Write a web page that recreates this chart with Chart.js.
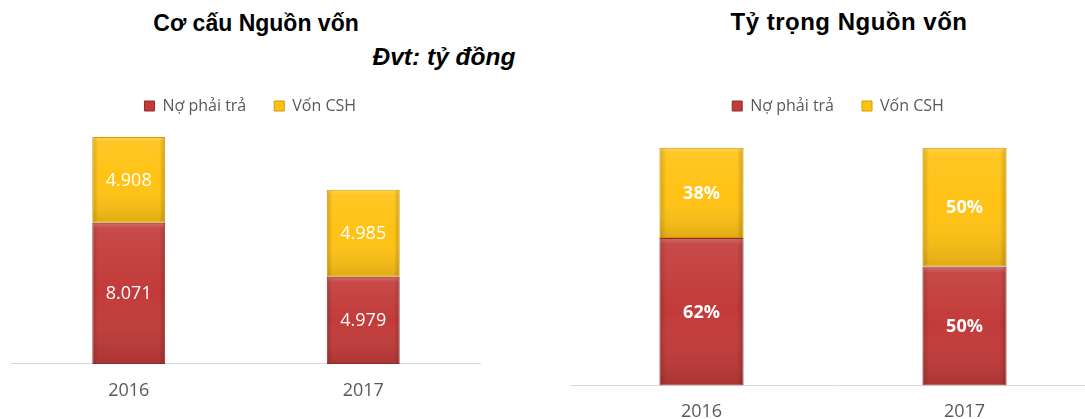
<!DOCTYPE html>
<html>
<head>
<meta charset="utf-8">
<script src="https://cdn.jsdelivr.net/npm/chart.js@4.4.1/dist/chart.umd.min.js"></script>
<style>
  html, body { margin:0; padding:0; background:#fff; width:1085px; height:419px; overflow:hidden; position:relative; }
  .t { position:absolute; font-family:"Liberation Sans", Arial, sans-serif; font-weight:bold; color:#000; white-space:nowrap; transform:translate(-50%,-50%); }
  .box { position:absolute; }
</style>
</head>
<body>
<div class="t" style="left:256px; top:23px; font-size:23px;">Cơ cấu Nguồn vốn</div>
<div class="t" style="left:444px; top:57px; font-size:24.5px; font-style:italic;">Đvt: tỷ đồng</div>
<div class="t" style="left:849px; top:22px; font-size:24px; letter-spacing:0.5px;">Tỷ trọng Nguồn vốn</div>
<div class="box" style="left:0px; top:70px; width:494px; height:349px;"><canvas id="c1"></canvas></div>
<div class="box" style="left:550px; top:70px; width:561px; height:361px;"><canvas id="c2"></canvas></div>
<script>
const categories = ['2016', '2017'];
const seriesNames = ['Nợ phải trả', 'Vốn CSH'];
const noPhaiTra = [8071, 4979];
const vonCSH = [4908, 4985];
const noPhaiTraPct = [62, 50];
const vonCSHPct = [38, 50];

const RED = '#C23B3A', RED_B = '#8E2A28';
const YEL = '#FFC214', YEL_B = '#D09A00';
const FONT = '"Open Sans", Lato, sans-serif';

function fmtVN(v) { return v.toLocaleString('de-DE'); }

const bevelPlugin = {
  id: 'bevel',
  afterDatasetsDraw(chart) {
    const ctx = chart.ctx;
    ctx.save();
    chart.data.datasets.forEach((ds, di) => {
      const meta = chart.getDatasetMeta(di);
      meta.data.forEach((el) => {
        const p = el.getProps(['x', 'y', 'base', 'width'], true);
        const l = p.x - p.width / 2, r = p.x + p.width / 2;
        const t = Math.min(p.y, p.base), b = Math.max(p.y, p.base);
        const gh = ctx.createLinearGradient(l, 0, r, 0);
        gh.addColorStop(0, 'rgba(0,0,0,0.18)');
        gh.addColorStop(0.08, 'rgba(0,0,0,0.0)');
        gh.addColorStop(0.92, 'rgba(0,0,0,0.0)');
        gh.addColorStop(1, 'rgba(0,0,0,0.2)');
        ctx.fillStyle = gh;
        ctx.fillRect(l + 1, t + 1, p.width - 2, b - t - 2);
        const gv = ctx.createLinearGradient(0, t, 0, b);
        gv.addColorStop(0, 'rgba(255,255,255,0.25)');
        gv.addColorStop(Math.min(0.06, 6 / (b - t)), 'rgba(255,255,255,0.08)');
        gv.addColorStop(0.5, 'rgba(255,255,255,0)');
        gv.addColorStop(1, 'rgba(0,0,0,0.12)');
        ctx.fillStyle = gv;
        ctx.fillRect(l + 1, t + 1, p.width - 2, b - t - 2);
      });
    });
    ctx.restore();
  }
};

const labelPlugin = {
  id: 'segLabels',
  afterDatasetsDraw(chart, args, opts) {
    const ctx = chart.ctx;
    ctx.save();
    ctx.fillStyle = '#fff';
    ctx.textAlign = 'center';
    ctx.textBaseline = 'middle';
    ctx.font = opts.font;
    chart.data.datasets.forEach((ds, di) => {
      const meta = chart.getDatasetMeta(di);
      meta.data.forEach((el, i) => {
        const p = el.getProps(['x', 'y', 'base'], true);
        ctx.fillText(opts.format(ds.data[i]), p.x, (p.y + p.base) / 2 + 1);
      });
    });
    ctx.restore();
  }
};

function makeChart(id, d1, d2, yMax, pad, barPct, fmt, font, tickPad, rightGap) {
  return new Chart(document.getElementById(id), {
    type: 'bar',
    data: {
      labels: categories,
      datasets: [
        { label: seriesNames[0], data: d1, backgroundColor: RED, borderColor: RED_B, borderWidth: 1, borderSkipped: false },
        { label: seriesNames[1], data: d2, backgroundColor: YEL, borderColor: YEL_B, borderWidth: 1, borderSkipped: false }
      ]
    },
    options: {
      responsive: true,
      maintainAspectRatio: false,
      animation: false,
      layout: { padding: pad },
      datasets: { bar: { categoryPercentage: 1, barPercentage: barPct } },
      plugins: {
        legend: {
          position: 'top',
          labels: {
            boxWidth: 10, boxHeight: 10, padding: 28,
            color: '#595959',
            font: { family: FONT, size: 16 }
          }
        },
        tooltip: { enabled: false },
        segLabels: { format: fmt, font: font }
      },
      scales: {
        x: {
          stacked: true,
          grid: { display: false },
          border: { display: true, color: '#D9D9D9', width: 1 },
          ticks: { color: '#595959', padding: tickPad, font: { family: FONT, size: 18 } }
        },
        y: {
          stacked: true, display: true, position: 'right', min: 0, max: yMax,
          grid: { display: false }, border: { display: false },
          ticks: { display: false },
          afterFit: (s) => { s.width = rightGap; }
        }
      }
    },
    plugins: [bevelPlugin, labelPlugin]
  });
}

makeChart('c1', noPhaiTra, vonCSH, 13720, { left: 11.5, right: 5, top: 0, bottom: 9.5 }, 0.311,
  v => fmtVN(v), '18px "Open Sans", Lato, sans-serif', 8, 8.5);
makeChart('c2', noPhaiTraPct, vonCSHPct, 110, { left: 20, right: 5, top: 0, bottom: 0 }, 0.32,
  v => v + '%', 'bold 18px "Open Sans", Lato, sans-serif', 8, 10);
</script>
</body>
</html>
